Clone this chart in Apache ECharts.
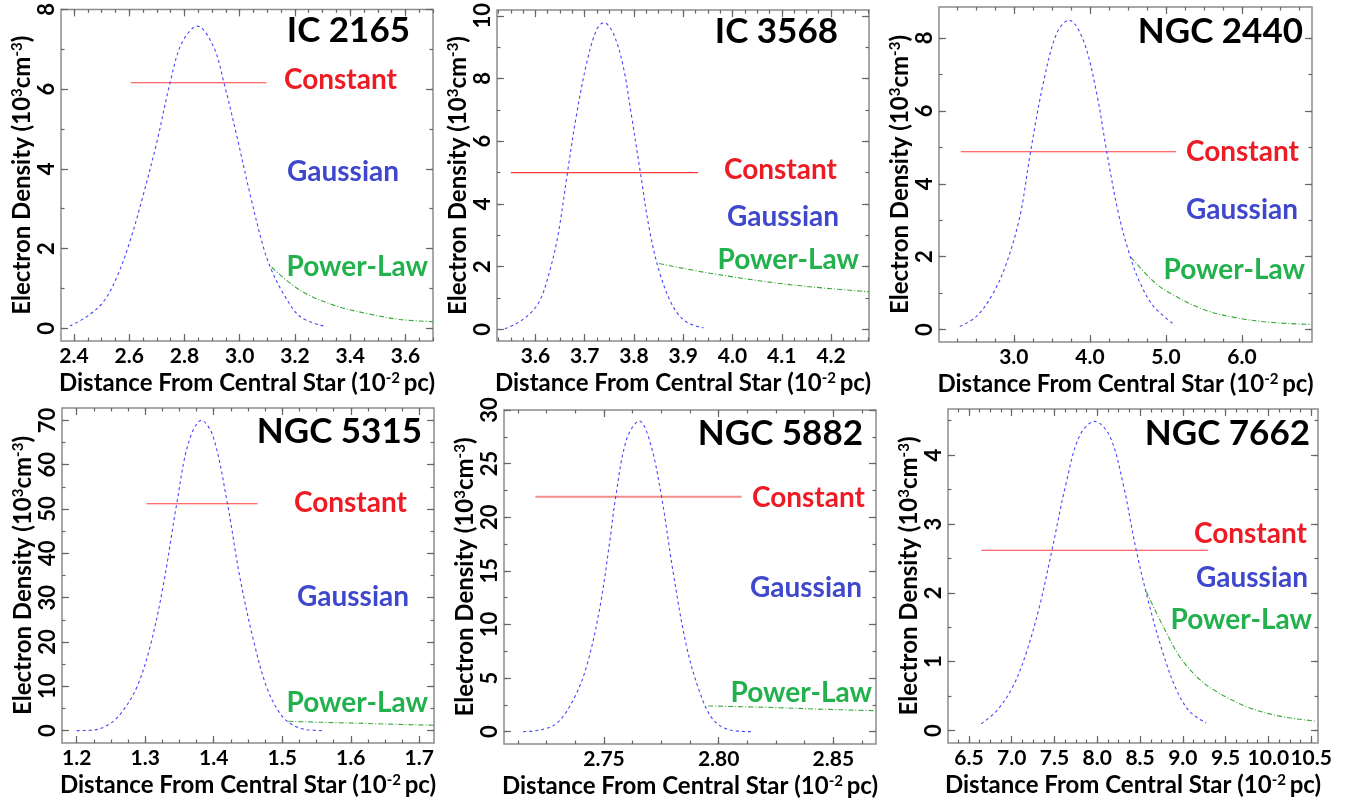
<!DOCTYPE html>
<html>
<head>
<meta charset="utf-8">
<title>Electron density profiles</title>
<script src="https://cdn.jsdelivr.net/npm/echarts@6/dist/echarts.min.js"></script>
<style>
html, body { margin: 0; padding: 0; background: #fff; }
#main { width: 1357px; height: 805px; }
</style>
</head>
<body>
<div id="main"></div>
<script>
// nebula names, one per panel
var nebulae = ['IC 2165', 'IC 3568', 'NGC 2440', 'NGC 5315', 'NGC 5882', 'NGC 7662'];

// ---- IC 2165 ----
var p1GaussX = [2.385, 2.446, 2.506, 2.555, 2.603, 2.651, 2.700, 2.748, 2.790, 2.847, 2.905, 2.943, 2.989, 3.038, 3.086, 3.116, 3.158, 3.219, 3.303];
var p1GaussY = [0.06, 0.29, 0.66, 1.28, 2.19, 3.35, 4.67, 6.16, 7.15, 7.58, 7.07, 6.16, 4.84, 3.35, 2.03, 1.45, 0.87, 0.29, 0.06];
var p1ConstX = [2.606, 3.097];
var p1ConstY = [6.16, 6.16];
var p1PowerX = [3.116, 3.219, 3.34, 3.46, 3.58, 3.70];
var p1PowerY = [1.53, 0.95, 0.58, 0.37, 0.22, 0.165];

// ---- IC 3568 ----
var p2GaussX = [3.538, 3.561, 3.588, 3.609, 3.629, 3.646, 3.665, 3.683, 3.704, 3.724, 3.739, 3.758, 3.778, 3.795, 3.813, 3.832, 3.853, 3.880, 3.907, 3.941];
var p2GaussY = [0.02, 0.18, 0.49, 0.92, 1.86, 3.02, 5.0, 6.81, 8.49, 9.55, 9.78, 9.44, 8.39, 6.81, 5.0, 3.13, 1.76, 0.71, 0.23, 0.05];
var p2ConstX = [3.55, 3.93];
var p2ConstY = [5.0, 5.0];
var p2PowerX = [3.851, 3.947, 4.083, 4.184, 4.277];
var p2PowerY = [2.1, 1.81, 1.49, 1.32, 1.2];

// ---- NGC 2440 ----
var p3GaussX = [2.289, 2.508, 2.728, 2.903, 3.079, 3.22, 3.386, 3.562, 3.725, 3.913, 4.089, 4.221, 4.375, 4.529, 4.66, 4.836, 5.12];
var p3GaussY = [0.09, 0.36, 1.0, 1.82, 3.10, 4.88, 6.75, 8.12, 8.49, 7.94, 6.48, 4.88, 3.19, 2.01, 1.28, 0.64, 0.12];
var p3ConstX = [2.302, 5.134];
var p3ConstY = [4.88, 4.88];
var p3PowerX = [4.54, 4.836, 5.055, 5.494, 5.934, 6.373, 6.92];
var p3PowerY = [1.99, 1.32, 1.0, 0.55, 0.32, 0.20, 0.14];

// ---- NGC 5315 ----
var p4GaussX = [1.200, 1.224, 1.249, 1.268, 1.288, 1.307, 1.326, 1.346, 1.363, 1.382, 1.399, 1.420, 1.438, 1.458, 1.477, 1.497, 1.516, 1.536, 1.560];
var p4GaussY = [0, 0.1, 1.6, 4.6, 9.9, 18.9, 32.5, 51.2, 64.9, 70, 66.4, 51.2, 34.7, 20.4, 9.9, 3.8, 1.2, 0.2, 0];
var p4ConstX = [1.302, 1.464];
var p4ConstY = [51.2, 51.2];
var p4PowerX = [1.509, 1.575, 1.647, 1.7215];
var p4PowerY = [2.1, 1.8, 1.5, 1.2];

// ---- NGC 5882 ----
var p5GaussX = [2.7148, 2.7221, 2.7294, 2.7366, 2.7424, 2.7483, 2.7526, 2.7551, 2.7599, 2.7654, 2.7701, 2.7751, 2.7802, 2.7860, 2.7919, 2.7977, 2.8049, 2.8144];
var p5GaussY = [0, 0.16, 0.78, 2.96, 6.08, 11.7, 17.9, 21.9, 27.3, 28.97, 27.0, 21.9, 14.8, 7.95, 3.59, 1.09, 0.16, 0];
var p5ConstX = [2.7201, 2.8100];
var p5ConstY = [21.9, 21.9];
var p5PowerX = [2.7955, 2.8238, 2.8456, 2.8686];
var p5PowerY = [2.4, 2.25, 2.09, 1.96];

// ---- NGC 7662 ----
var p6GaussX = [6.644, 6.819, 7.014, 7.170, 7.326, 7.470, 7.637, 7.793, 7.968, 8.144, 8.299, 8.455, 8.611, 8.767, 8.923, 9.078, 9.273];
var p6GaussY = [0.10, 0.28, 0.64, 1.13, 1.81, 2.62, 3.60, 4.28, 4.49, 4.28, 3.60, 2.62, 1.81, 1.13, 0.60, 0.28, 0.11];
var p6ConstX = [6.644, 9.293];
var p6ConstY = [2.62, 2.62];
var p6PowerX = [8.572, 8.767, 8.96, 9.156, 9.35, 9.74, 10.13, 10.566];
var p6PowerY = [2.02, 1.52, 1.08, 0.79, 0.60, 0.35, 0.21, 0.136];

// tick labels (major) per panel
var xTicks = [
  [2.4, 2.6, 2.8, 3.0, 3.2, 3.4, 3.6],
  [3.6, 3.7, 3.8, 3.9, 4.0, 4.1, 4.2],
  [3.0, 4.0, 5.0, 6.0],
  [1.2, 1.3, 1.4, 1.5, 1.6, 1.7],
  [2.75, 2.80, 2.85],
  [6.5, 7.0, 7.5, 8.0, 8.5, 9.0, 9.5, 10.0, 10.5]
];
var yTicks = [
  [0, 2, 4, 6, 8],
  [0, 2, 4, 6, 8, 10],
  [0, 2, 4, 6, 8],
  [0, 10, 20, 30, 40, 50, 60, 70],
  [0, 5, 10, 15, 20, 25, 30],
  [0, 1, 2, 3, 4]
];
var yStep = [2, 2, 2, 10, 5, 1];

// axis extents
var xRange = [[2.353, 3.70], [3.522, 4.277], [2.016, 6.92], [1.1785, 1.7215], [2.7064, 2.8686], [6.255, 10.58]];
var yRange = [[-0.32, 8.0], [-0.37, 10.18], [-0.34, 8.85], [-2.8, 72.8], [-1.15, 30], [-0.18, 4.67]];
var xMinorStep = [0.05, 0.025, 0.25, 0.025, 0.0125, 0.125];
var yMinorStep = [1, 1, 1, 5, 2.5, 0.5];
var xDecimals = [1, 1, 1, 1, 2, 1];

// layout: [left, top, width, height] of each plot box
var boxes = [
  [61, 6, 372, 335],
  [497, 7, 372, 334],
  [939, 7, 373, 335],
  [62, 408, 372, 335],
  [504, 410, 372, 334],
  [948, 409, 370, 334]
];
// text positions: [rightEdge, centerY] for title, Constant, Gaussian, Power-Law
var textPos = [
  [[410, 31], [397, 80], [399, 172], [428, 267]],
  [[838, 32], [837, 170], [839, 217], [859, 260]],
  [[1303, 32], [1299, 152], [1298, 210], [1305, 270]],
  [[422, 432], [407, 503], [409, 597], [428, 703]],
  [[863, 434], [865, 498], [862, 588], [872, 693]],
  [[1310, 434], [1307, 534], [1308, 578], [1312, 620]]
];

var gaussX = [p1GaussX, p2GaussX, p3GaussX, p4GaussX, p5GaussX, p6GaussX];
var gaussY = [p1GaussY, p2GaussY, p3GaussY, p4GaussY, p5GaussY, p6GaussY];
var constX = [p1ConstX, p2ConstX, p3ConstX, p4ConstX, p5ConstX, p6ConstX];
var constY = [p1ConstY, p2ConstY, p3ConstY, p4ConstY, p5ConstY, p6ConstY];
var powerX = [p1PowerX, p2PowerX, p3PowerX, p4PowerX, p5PowerX, p6PowerX];
var powerY = [p1PowerY, p2PowerY, p3PowerY, p4PowerY, p5PowerY, p6PowerY];

var FONT = 'Lato';
var TICK_COLOR = '#666';

function pairs(xs, ys) {
  var out = [];
  for (var i = 0; i < xs.length; i++) out.push([xs[i], ys[i]]);
  return out;
}

function stepTicks(min, max, step) {
  var out = [];
  var k = Math.ceil(min / step - 1e-6);
  while (k * step <= max + 1e-9) {
    out.push(+(k * step).toFixed(6));
    k++;
  }
  return out;
}

var richName = {
  n: { fontFamily: FONT, fontWeight: 'bold', fontSize: 24, color: '#000' },
  s: { fontFamily: FONT, fontWeight: 'bold', fontSize: 15, color: '#000', verticalAlign: 'top' }
};

function baseAxis(gi, pos, ticks, range, isMajor) {
  return {
    type: 'value',
    gridIndex: gi,
    position: pos,
    min: range[0],
    max: range[1],
    splitLine: { show: false },
    axisLine: { show: false, onZero: false },
    axisTick: {
      show: true,
      inside: true,
      length: isMajor ? 7 : 3.5,
      customValues: ticks,
      lineStyle: { color: TICK_COLOR, width: 1.2 }
    },
    axisLabel: { show: false },
    axisPointer: { show: false }
  };
}

// bottom axis that carries the tick labels and the axis title
function xLabelAxis(i) {
  var ax = baseAxis(i, 'bottom', xTicks[i], xRange[i], true);
  var dec = xDecimals[i];
  ax.axisLabel = {
    show: true,
    customValues: xTicks[i],
    margin: 5,
    hideOverlap: false,
    fontFamily: FONT, fontWeight: 'bold', fontSize: 21, color: '#000',
    formatter: function (v) { return v.toFixed(dec); }
  };
  ax.name = '{n|Distance From Central Star (10}{s|-2 }{n|pc)}';
  ax.nameLocation = 'middle';
  ax.nameGap = 30;
  ax.nameTextStyle = { rich: richName };
  return ax;
}

// left axis with rotated labels; interval forced through min/maxInterval
function yLabelAxis(i) {
  var ax = baseAxis(i, 'left', yTicks[i], yRange[i], true);
  var step = yStep[i];
  ax.minInterval = step;
  ax.maxInterval = step;
  ax.splitNumber = Math.round((yRange[i][1] - yRange[i][0]) / step);
  ax.axisLabel = {
    show: true,
    rotate: 90,
    margin: 3,
    showMinLabel: true,
    showMaxLabel: true,
    fontFamily: FONT, fontWeight: 'bold', fontSize: 22, color: '#000',
    formatter: function (v) {
      var r = v / step;
      if (Math.abs(r - Math.round(r)) > 1e-6) return '';
      return String(Math.round(v));
    }
  };
  ax.name = '{n|Electron Density (10}{s|3}{n|cm}{s|-3}{n|)}';
  ax.nameLocation = 'middle';
  ax.nameGap = 27;
  ax.nameTextStyle = { rich: richName };
  return ax;
}

var grids = [], xAxes = [], yAxes = [], series = [], titles = [];

for (var i = 0; i < 6; i++) {
  var b = boxes[i];
  grids.push({
    left: b[0], top: b[1], width: b[2], height: b[3],
    show: true, borderColor: '#8c8c8c', borderWidth: 1.5,
    backgroundColor: 'transparent'
  });

  var xMinor = stepTicks(xRange[i][0], xRange[i][1], xMinorStep[i]);
  var yMinor = stepTicks(yRange[i][0], yRange[i][1], yMinorStep[i]);

  // 4 x axes per grid: bottom major (labels), bottom minor, top major, top minor
  xAxes.push(xLabelAxis(i));
  xAxes.push(baseAxis(i, 'bottom', xMinor, xRange[i], false));
  xAxes.push(baseAxis(i, 'top', xTicks[i], xRange[i], true));
  xAxes.push(baseAxis(i, 'top', xMinor, xRange[i], false));

  yAxes.push(yLabelAxis(i));
  yAxes.push(baseAxis(i, 'left', yMinor, yRange[i], false));
  yAxes.push(baseAxis(i, 'right', yTicks[i], yRange[i], true));
  yAxes.push(baseAxis(i, 'right', yMinor, yRange[i], false));

  series.push({
    type: 'line', name: 'Constant', xAxisIndex: 4 * i, yAxisIndex: 4 * i,
    data: pairs(constX[i], constY[i]),
    symbol: 'none', silent: true,
    lineStyle: { color: i === 4 ? '#f58c8c' : '#ff3b3b', width: i === 4 ? 2 : 1.1 }
  });
  series.push({
    type: 'line', name: 'Gaussian', xAxisIndex: 4 * i, yAxisIndex: 4 * i,
    data: pairs(gaussX[i], gaussY[i]),
    symbol: 'none', smooth: 0.35, silent: true,
    lineStyle: { color: '#4646ff', width: 1.1, type: [3, 3] }
  });
  series.push({
    type: 'line', name: 'Power-Law', xAxisIndex: 4 * i, yAxisIndex: 4 * i,
    data: pairs(powerX[i], powerY[i]),
    symbol: 'none', smooth: 0.35, silent: true,
    lineStyle: { color: '#3aa83a', width: 1.1, type: [5, 2, 1, 2] }
  });

  // panel name and the three model labels
  var tp = textPos[i];
  var labels = [
    [nebulae[i], '#000', 35],
    ['Constant', '#ED1C24', 28],
    ['Gaussian', '#3F48CC', 28],
    ['Power-Law', '#22B14C', 28]
  ];
  for (var k = 0; k < 4; k++) {
    var fs = labels[k][2];
    titles.push({
      text: labels[k][0],
      right: 1357 - tp[k][0],
      top: tp[k][1] - fs / 2,
      padding: 0,
      textStyle: {
        fontFamily: FONT, fontWeight: 'bold', fontSize: fs,
        lineHeight: fs, color: labels[k][1]
      }
    });
  }
}

var myChart = echarts.init(document.getElementById('main'));
myChart.setOption({
  backgroundColor: '#fff',
  animation: false,
  title: titles,
  grid: grids,
  xAxis: xAxes,
  yAxis: yAxes,
  series: series
});
</script>
</body>
</html>
